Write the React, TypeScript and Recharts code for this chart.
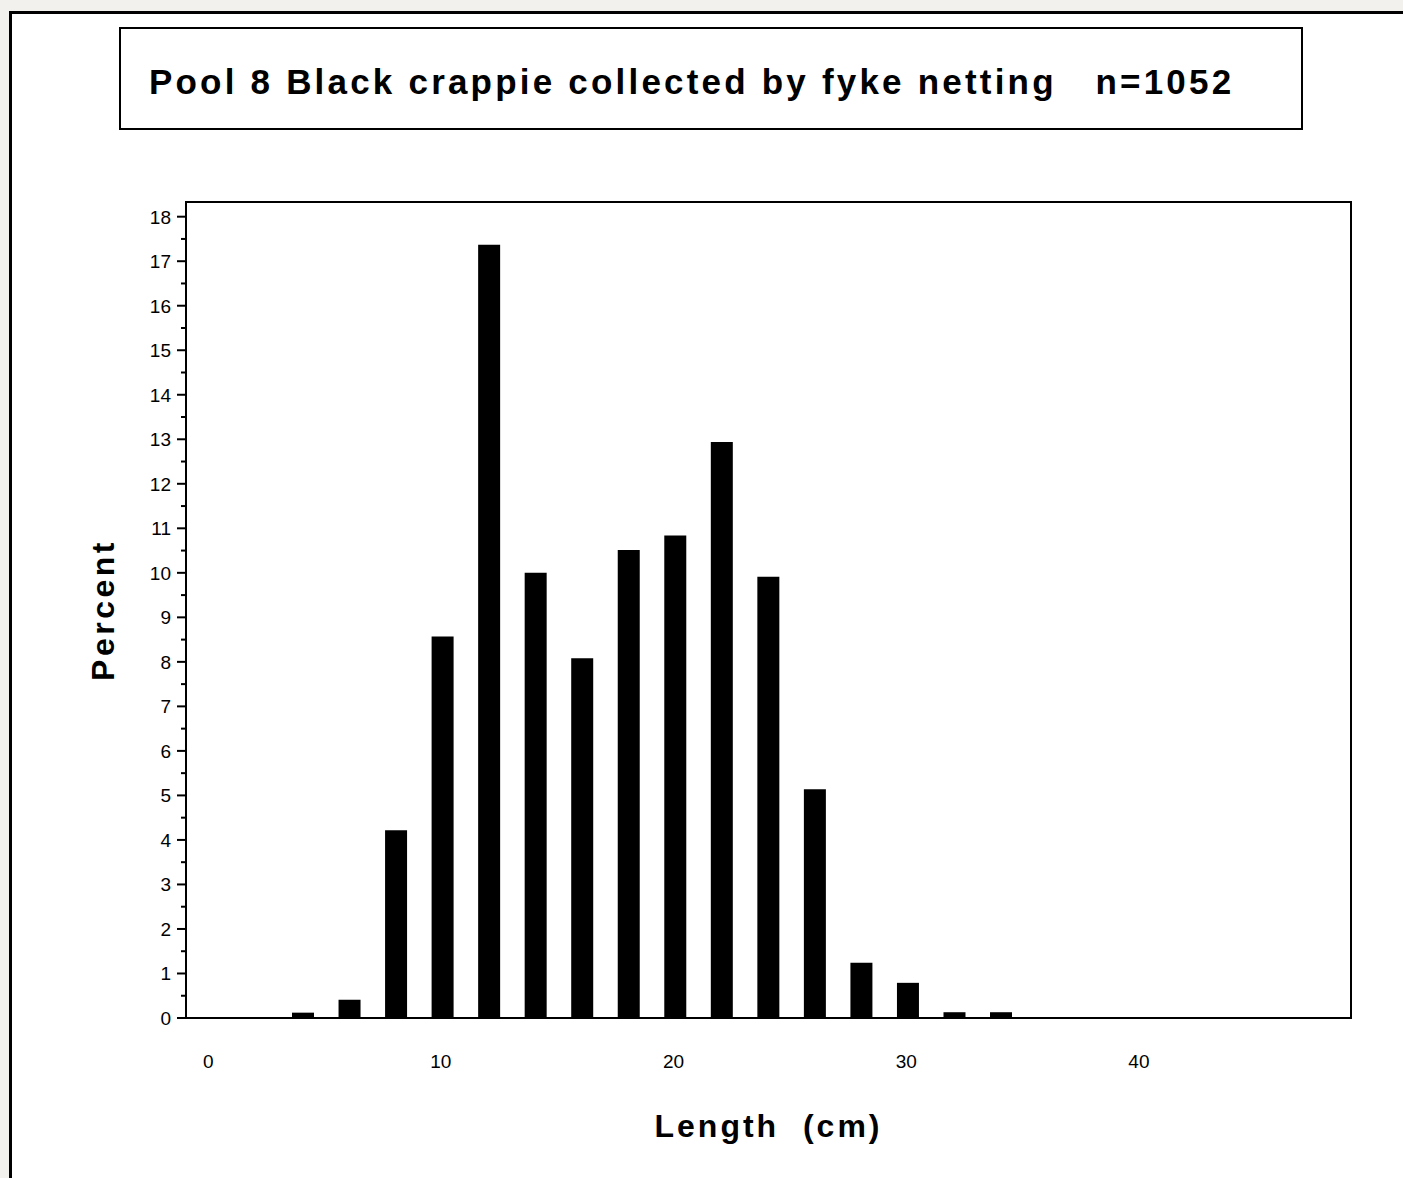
import { BarChart, Bar, XAxis, YAxis, ReferenceArea } from "recharts";

// Pool 8 black crappie length-frequency (fyke netting, n=1052)
const lengths = [4, 6, 8, 10, 12, 14, 16, 18, 20, 22, 24, 26, 28, 30, 32, 34];
const percents = [
  0.12, 0.41, 4.22, 8.57, 17.37, 10.0, 8.08, 10.51, 10.84, 12.94, 9.91, 5.14, 1.24, 0.79, 0.13,
  0.13,
];
const xTicks = [0, 10, 20, 30, 40];
const yTicks = Array.from({ length: 37 }, (_, i) => i / 2);

const X_DOMAIN = [-1.04, 49.03];
const Y_DOMAIN = [0, 18.33];

const FONT = "'Liberation Sans', Arial, Helvetica, sans-serif";

const data = lengths.map((length, i) => ({ length, percent: percents[i] }));

const YTick = ({ x, y, payload }: any) => {
  const major = Number.isInteger(payload.value);
  return (
    <g>
      <line x1={x} x2={x - (major ? 9 : 5)} y1={y} y2={y} stroke="#000" strokeWidth={2} />
      {major && (
        <text x={x - 15} y={y} dy="0.36em" textAnchor="end" fontSize={19} fontFamily={FONT} fill="#000">
          {payload.value}
        </text>
      )}
    </g>
  );
};

const XTick = ({ x, y, payload }: any) => (
  <text x={x - 2} y={y + 50} textAnchor="middle" fontSize={19} fontFamily={FONT} fill="#000">
    {payload.value}
  </text>
);

const App = () => {
  return (
    <div
      style={{
        position: "absolute",
        left: 0,
        top: 0,
        width: 1403,
        height: 1178,
        background: "#f3f1ed",
        overflow: "hidden",
      }}
    >
      <div
        style={{
          position: "absolute",
          left: 9,
          top: 11,
          width: 1403 - 9,
          height: 1178 - 11,
          borderLeft: "3px solid #000",
          borderTop: "3px solid #000",
          background: "#fff",
          boxSizing: "border-box",
        }}
      />
      <div
        style={{
          position: "absolute",
          left: 119,
          top: 27,
          width: 1184,
          height: 103,
          border: "2px solid #000",
          boxSizing: "border-box",
          display: "flex",
          alignItems: "center",
          paddingLeft: 28,
          paddingTop: 6,
          fontFamily: FONT,
          fontWeight: "bold",
          fontSize: 35,
          letterSpacing: 3.2,
          whiteSpace: "pre",
          color: "#000",
        }}
      >
        {"Pool 8 Black crappie collected by fyke netting   n=1052"}
      </div>
      <div style={{ position: "absolute", left: 0, top: 0 }}>
        <BarChart
          width={1403}
          height={1178}
          data={data}
          margin={{ top: 202, right: 52, left: 126, bottom: 120 }}
        >
          <XAxis
            dataKey="length"
            type="number"
            domain={X_DOMAIN}
            allowDataOverflow
            ticks={xTicks}
            tick={<XTick />}
            tickLine={false}
            tickSize={0}
            tickMargin={0}
            height={40}
            axisLine={{ stroke: "#000", strokeWidth: 2 }}
            label={{
              content: ({ viewBox }: any) => (
                <text
                  x={viewBox.x + viewBox.width / 2}
                  y={1137}
                  textAnchor="middle"
                  fontSize={32}
                  fontWeight="bold"
                  fontFamily={FONT}
                  letterSpacing={3}
                  style={{ whiteSpace: "pre" }}
                  fill="#000"
                >
                  {"Length  (cm)"}
                </text>
              ),
            }}
          />
          <YAxis
            type="number"
            domain={Y_DOMAIN}
            allowDataOverflow
            ticks={yTicks}
            interval={0}
            tick={<YTick />}
            tickLine={false}
            tickSize={0}
            tickMargin={0}
            width={60}
            axisLine={{ stroke: "#000", strokeWidth: 2 }}
            label={{
              content: ({ viewBox }: any) => {
                const cx = 102;
                const cy = viewBox.y + viewBox.height / 2;
                return (
                  <text
                    x={cx}
                    y={cy}
                    dy="0.36em"
                    textAnchor="middle"
                    transform={`rotate(-90 ${cx} ${cy})`}
                    fontSize={32}
                    fontWeight="bold"
                    fontFamily={FONT}
                    letterSpacing={3.5}
                    fill="#000"
                  >
                    Percent
                  </text>
                );
              },
            }}
          />
          <Bar dataKey="percent" fill="#000" barSize={22} isAnimationActive={false} />
          <ReferenceArea
            x1={X_DOMAIN[0]}
            x2={X_DOMAIN[1]}
            y1={Y_DOMAIN[0]}
            y2={Y_DOMAIN[1]}
            fill="none"
            fillOpacity={0}
            stroke="#000"
            strokeWidth={2}
            strokeOpacity={1}
            ifOverflow="visible"
          />
        </BarChart>
      </div>
    </div>
  );
};

export default App;
